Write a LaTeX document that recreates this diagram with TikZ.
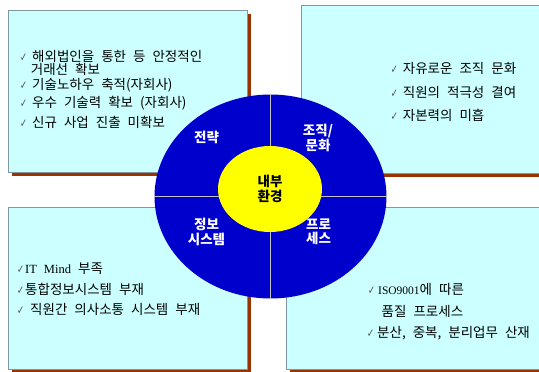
\documentclass[tikz,border=0pt]{standalone}
\usepackage{fontspec}
\usepackage{graphicx}
\setmainfont{Noto Sans CJK KR}
\newfontfamily\lat{Liberation Serif}
\newfontfamily\symf{DejaVu Sans}
\usetikzlibrary{shapes.geometric,shadows}
\definecolor{boxfill}{RGB}{204,255,255}
\definecolor{boxline}{RGB}{128,150,160}
\definecolor{shadowbrown}{RGB}{153,51,0}
\definecolor{ringblue}{RGB}{0,0,204}
\definecolor{coreyellow}{RGB}{255,255,0}
\definecolor{divgray}{RGB}{192,192,192}
\definecolor{chkgray}{RGB}{80,80,80}
\newcommand\ck[1]{\makebox[#1][l]{\color{chkgray}\symf\fontsize{12.5}{13}\selectfont\scalebox{0.68}[0.95]{✓}}}
\newcommand\itemfont{\fontsize{13.5}{16}\selectfont\spaceskip 7pt\relax}
\begin{document}
\begin{tikzpicture}[x=1pt,y=-1pt,
  panel/.style={draw=boxline, line width=0.6pt, fill=boxfill, anchor=north west, inner sep=0pt,
    drop shadow={shadow xshift=4pt, shadow yshift=-4pt, fill=shadowbrown, opacity=1}},
  item/.style={anchor=base west, inner sep=0pt, font=\itemfont, text=black},
  lab/.style={text=white, font=\bfseries\fontsize{13.5}{14.5}\selectfont, align=center, inner sep=0pt}]
\useasboundingbox (0,0) rectangle (539,372);
\clip (0,0) rectangle (539,372);
% panels
\node[panel, minimum width=239pt, minimum height=162pt] (tl) at (8,10) {};
\node[panel, minimum width=250pt, minimum height=168pt] (tr) at (301,5) {};
\node[panel, minimum width=239pt, minimum height=162pt] (bl) at (8,207) {};
\node[panel, minimum width=260pt, minimum height=162pt] (br) at (286,207) {};
% ring
\node[ellipse, fill=ringblue, minimum width=232pt, minimum height=204pt, inner sep=0pt] (ring) at (270.5,196.5) {};
\draw[divgray, line width=0.8pt] (ring.north) -- (ring.south);
\draw[divgray, line width=0.8pt] (ring.west) -- (ring.east);
\node[ellipse, fill=coreyellow, minimum width=104pt, minimum height=86pt, lab, text=black] (core) at (270,189) {내부\\환경};
\node[lab] (strat) at (206.5,137.5) {전략};
\node[lab] (org) at (318,138) {조직/\\문화};
\node[lab] (info) at (206.5,232) {정보\\시스템};
\node[lab] (proc) at (318.5,232) {프로\\세스};
% top-left items
\node[item] (tl1) at (20,61.4) {\ck{12pt}해외법인을 통한 등 안정적인};
\node[item] (tl2) at (30.7,74.1) {거래선 확보};
\node[item] (tl3) at (20,89.4) {\ck{12pt}기술노하우 축적(자회사)};
\node[item] (tl4) at (20,107.9) {\ck{12pt}우수 기술력 확보 (자회사)};
\node[item] (tl5) at (20,127.9) {\ck{12pt}신규 사업 진출 미확보};
% top-right items
\node[item] (tr1) at (390.7,73.4) {\ck{12pt}자유로운 조직 문화};
\node[item] (tr2) at (390.7,97.1) {\ck{12pt}직원의 적극성 결여};
\node[item] (tr3) at (390.7,120.4) {\ck{12pt}자본력의 미흡};
% bottom-left items
\node[item] (bl1) at (17,273.4) {\ck{8pt}{\lat\fontsize{12.5}{15}\selectfont IT Mind} 부족};
\node[item] (bl2) at (17,294.4) {\ck{8pt}통합정보시스템 부재};
\node[item] (bl3) at (17,314.9) {\ck{13pt}직원간 의사소통 시스템 부재};
% bottom-right items
\node[item] (br1) at (368,294.4) {\ck{10pt}{\lat\fontsize{11.5}{13}\selectfont ISO9001}에 따른};
\node[item] (br2) at (381.5,316.4) {품질 프로세스};
\node[item] (br3) at (367,337.4) {\ck{10pt}분산, 중복, 분리업무 산재};
\end{tikzpicture}
\end{document}
